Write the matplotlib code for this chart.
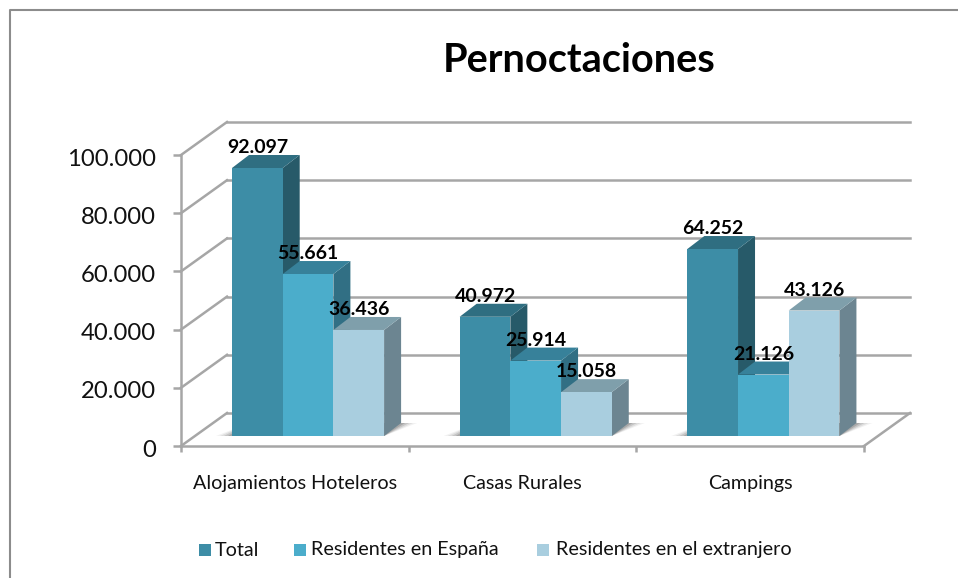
"""
plot.py - Pernoctaciones, 3D look clustered bars drawn on a flat axes.
"""
import matplotlib
matplotlib.use("Agg")
import matplotlib.pyplot as plt
from matplotlib.patches import Polygon, Rectangle
from matplotlib.lines import Line2D
from matplotlib.transforms import IdentityTransform, ScaledTranslation

plt.rcParams["font.family"] = ["Lato", "DejaVu Sans"]

# ----------------------------------------------------------------------
# data
# ----------------------------------------------------------------------
categories = ["Alojamientos Hoteleros", "Casas Rurales", "Campings"]
series_names = ["Total", "Residentes en España", "Residentes en el extranjero"]
total = [92097, 40972, 64252]
residentes_espana = [55661, 25914, 21126]
residentes_extranjero = [36436, 15058, 43126]
value_labels_total = ["92.097", "40.972", "64.252"]
value_labels_espana = ["55.661", "25.914", "21.126"]
value_labels_extranjero = ["36.436", "15.058", "43.126"]
y_ticks = [0, 20000, 40000, 60000, 80000, 100000]
y_tick_labels = ["0", "20.000", "40.000", "60.000", "80.000", "100.000"]

# front / top / side colours per series
front_colors = ["#3D8DA6", "#4BADCB", "#A9CEDF"]
top_colors = ["#2F6E81", "#37819A", "#7F9FAB"]
side_colors = ["#275A69", "#316F84", "#6C8591"]
GRID = "#A6A6A6"

W, H = 958, 578
fig = plt.figure(figsize=(W / 100, H / 100), dpi=100)
fig.patch.set_facecolor("white")

# axes placed so the front plane runs 181..864 px and 155..446 px
ax = fig.add_axes([181 / W, 1 - 446 / H, (864 - 181) / W, 291 / H])
ax.set_xlim(0, 3)
ax.set_ylim(0, 100000)
ax.patch.set_visible(False)
for name in ["top", "right"]:
    ax.spines[name].set_visible(False)
for name in ["left", "bottom"]:
    ax.spines[name].set_color(GRID)
    ax.spines[name].set_linewidth(1.8)

ax.set_yticks(y_ticks)
ax.set_yticklabels(y_tick_labels, fontsize=17.2, color="#111111")
ax.set_xticks([0, 1, 2, 3])
ax.set_xticklabels([])
ax.set_xticks([0.5, 1.5, 2.5], minor=True)
ax.set_xticklabels(categories, minor=True, fontsize=14.2, color="#111111")
ax.tick_params(axis="y", direction="out", length=6, width=1.8, color=GRID, pad=12)
ax.tick_params(axis="x", which="major", direction="out", length=4, width=1.8, color=GRID)
ax.tick_params(axis="x", which="minor", length=0, pad=21)

# the value labels of the axis sit a little below their ticks
label_shift = ScaledTranslation(0, -1.5 / 72, fig.dpi_scale_trans)
for lab in ax.get_yticklabels():
    lab.set_transform(lab.get_transform() + label_shift)


def pt(x, y, dx=0, dy=0):
    """Data point to display pixels, with a pixel offset for the depth."""
    px, py = ax.transData.transform((x, y))
    return (px + dx, py + dy)


def poly(points, color, z, alpha=1.0):
    ax.add_patch(Polygon(points, closed=True, facecolor=color, edgecolor="none",
                         alpha=alpha, transform=IdentityTransform(),
                         clip_on=False, zorder=z))


def seg(p, q, z=1):
    ax.add_line(Line2D([p[0], q[0]], [p[1], q[1]], color=GRID, lw=1.8,
                       transform=IdentityTransform(), clip_on=False, zorder=z))


# back wall, side wall and floor lines
WALL_DX, WALL_DY = 46, 33
for v in y_ticks:
    seg(pt(0, v), pt(0, v, WALL_DX, WALL_DY))
    seg(pt(0, v, WALL_DX, WALL_DY), pt(3, v, WALL_DX, WALL_DY))
seg(pt(3, 0), pt(3, 0, WALL_DX, WALL_DY))

# bars
BAR_W = 50.7 / 227.67
BAR_START = 51 / 227.67
DEPTH_DX, DEPTH_DY = 17, 13
BASE_DY = 10
values = [total, residentes_espana, residentes_extranjero]
labels = [value_labels_total, value_labels_espana, value_labels_extranjero]

for c in range(len(categories)):
    # soft floor shadow behind each cluster
    x0 = c + BAR_START
    x1 = x0 + 3 * BAR_W
    for grow, a in [(16, 0.08), (12, 0.12), (8, 0.18), (4, 0.25)]:
        poly([pt(x0, 0, -grow, BASE_DY),
              pt(x1, 0, 0, BASE_DY),
              pt(x1, 0, DEPTH_DX + grow, BASE_DY + DEPTH_DY),
              pt(x0, 0, DEPTH_DX, BASE_DY + DEPTH_DY)],
             "#555555", 2, alpha=a)

    # left to right so each front covers the side of the bar before it
    for s in range(len(series_names)):
        left = x0 + s * BAR_W
        right = left + BAR_W
        v = values[s][c]
        a = pt(left, v, 0, BASE_DY)
        b = pt(right, v, 0, BASE_DY)
        b0 = pt(right, 0, 0, BASE_DY)
        a0 = pt(left, 0, 0, BASE_DY)
        z = 3 + s
        poly([b0, b, (b[0] + DEPTH_DX, b[1] + DEPTH_DY),
              (b0[0] + DEPTH_DX, b0[1] + DEPTH_DY)], side_colors[s], z)
        poly([a, b, (b[0] + DEPTH_DX, b[1] + DEPTH_DY),
              (a[0] + DEPTH_DX, a[1] + DEPTH_DY)], top_colors[s], z)
        poly([a0, b0, b, a], front_colors[s], z + 0.5)

# value labels above the top face of each bar
for s in range(len(series_names)):
    for c in range(len(categories)):
        left = c + BAR_START + s * BAR_W
        px, py = pt(left + BAR_W / 2, values[s][c], 0, BASE_DY + DEPTH_DY - 1)
        ax.text(px, py, labels[s][c], transform=IdentityTransform(), ha="center",
                va="bottom", fontsize=14, fontweight="bold", color="black",
                clip_on=False, zorder=10)

# title
fig.text(579 / W, 1 - 61 / H, "Pernoctaciones", ha="center", va="center",
         fontsize=28.5, fontweight="bold", color="black")

# legend built from swatches so its spacing follows the picture
legend_y = 550
swatch_x = [199, 294, 537]
text_x = [215, 311, 556]
for name, color, sx, tx in zip(series_names, front_colors, swatch_x, text_x):
    fig.add_artist(Rectangle((sx / W, 1 - (legend_y + 6) / H), 12 / W, 12 / H,
                             transform=fig.transFigure, facecolor=color,
                             edgecolor="none"))
    fig.text(tx / W, 1 - legend_y / H, name, ha="left", va="center",
             fontsize=14.2, color="#111111")

# chart frame: the picture is a crop, only left and top edges remain
fig.add_artist(Line2D([10 / W, 10 / W, 1], [0, 1 - 10 / H, 1 - 10 / H],
                      transform=fig.transFigure, color="#8C8C8C", lw=1.5))

fig.savefig("out.png", dpi=100)
